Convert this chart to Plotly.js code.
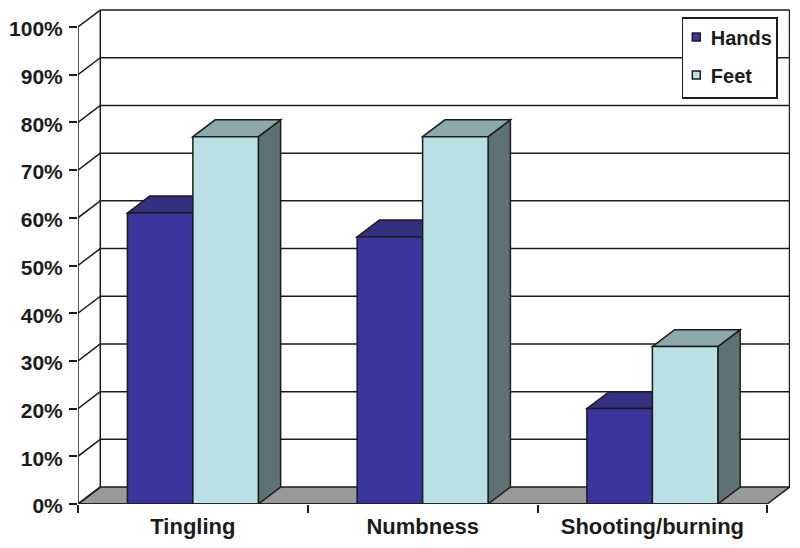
<!DOCTYPE html>
<html>
<head>
<meta charset="utf-8">
<script src="https://cdn.plot.ly/plotly-3.0.1.min.js"></script>
<style>
html,body{margin:0;padding:0;background:#fff}
/* plotly won't go below itemwidth 30, so tighten the legend by hand */
.legend .bg{width:94.5px;height:80px}
.legend .legendtext{transform:translate(-12.5px,-1px)}
.legend .legendsymbols{transform:translate(-7px,-1px)}
</style>
</head>
<body>
<div id="graph" style="width:800px;height:548px"></div>
<script>
var categories = ["Tingling", "Numbness", "Shooting/burning"];
var hands = [61, 56, 20];
var feet = [77, 77, 33];
var percentTicks = [0, 10, 20, 30, 40, 50, 60, 70, 80, 90, 100];
var percentLabels = ["0%", "10%", "20%", "30%", "40%", "50%", "60%", "70%", "80%", "90%", "100%"];
var categoryEdges = [0, 1, 2, 3];

var INK = "#1c1c1c";
var LINE_W = 1.5;
var GAP = 0.43;
var BAR_W = (1 - GAP) / 2;
var DX = 0.097;   // depth of the fake 3d box, in category units
var DY = 3.55;    // same, in percent units
var xRight = 3 + DX;
var yTop = 100 + DY;

var plotLeft = 78, plotTop = 8, plotW = 714, plotH = 496;

var centers = categories.map(function (c, i) { return i + 0.5; });

function poly(points, fill) {
    var path = points.map(function (p, i) {
        return (i ? "L" : "M") + p[0] + "," + p[1];
    }).join(" ") + " Z";
    return {
        type: "path", path: path, xref: "x", yref: "y", layer: "below",
        fillcolor: fill, line: {color: INK, width: LINE_W}
    };
}

function seg(x0, y0, x1, y1) {
    return {
        type: "line", x0: x0, y0: y0, x1: x1, y1: y1, xref: "x", yref: "y",
        layer: "below", line: {color: INK, width: LINE_W}
    };
}

function barFaces(values, left, topColor, sideColor) {
    var out = [];
    values.forEach(function (v, i) {
        var x0 = i + 0.5 + left, x1 = x0 + BAR_W;
        out.push(poly([[x1, 0], [x1 + DX, DY], [x1 + DX, v + DY], [x1, v]], sideColor));
        out.push(poly([[x0, v], [x0 + DX, v + DY], [x1 + DX, v + DY], [x1, v]], topColor));
    });
    return out;
}

var shapes = [];

// floor
shapes.push(poly([[0, 0], [DX, DY], [xRight, DY], [3, 0]], "#999999"));

// back wall grid and the diagonals on the left wall
percentTicks.forEach(function (t) {
    shapes.push(seg(0, t, DX, t + DY));
    if (t > 0) shapes.push(seg(DX, t + DY, xRight, t + DY));
});
shapes.push(seg(DX, DY, DX, yTop));
shapes.push(seg(xRight, DY, xRight, yTop));

shapes = shapes.concat(barFaces(hands, -BAR_W, "#35307f", "#2b2868"));
shapes = shapes.concat(barFaces(feet, 0, "#8ca9ad", "#5e7274"));

var data = [
    {
        type: "bar", x: centers, y: hands, showlegend: false, hoverinfo: "skip",
        marker: {color: "#3b369e", line: {color: INK, width: LINE_W}}
    },
    {
        type: "bar", x: centers, y: feet, showlegend: false, hoverinfo: "skip",
        marker: {color: "#b9e0e3", line: {color: INK, width: LINE_W}}
    },
    // axis lines sit on the plot edge, so draw them unclipped
    {
        type: "scatter", mode: "lines", x: [0, 0, 3], y: [100, 0, 0],
        cliponaxis: false, showlegend: false, hoverinfo: "skip",
        line: {color: INK, width: LINE_W}
    },
    {
        type: "scatter", mode: "markers", x: [null], y: [null], name: "Hands", legendgroup: "a",
        marker: {symbol: "square", size: 8, color: "#3b369e", line: {color: INK, width: 1.5}}
    },
    {
        type: "scatter", mode: "markers", x: [null], y: [null], name: "Feet", legendgroup: "b",
        marker: {symbol: "square", size: 8, color: "#b9e0e3", line: {color: INK, width: 1.5}}
    }
];

var layout = {
    width: 800,
    height: 548,
    margin: {l: plotLeft, r: 800 - plotLeft - plotW, t: plotTop, b: 548 - plotTop - plotH},
    paper_bgcolor: "#fff",
    plot_bgcolor: "#fff",
    barmode: "group",
    bargap: GAP,
    bargroupgap: 0,
    font: {family: "Liberation Sans, Arial, sans-serif", color: INK},
    shapes: shapes,
    xaxis: {
        range: [0, plotW / 230.4],
        tickmode: "array",
        tickvals: centers,
        ticktext: categories.map(function (c) { return "<b>" + c + "</b>"; }),
        tickfont: {size: 22, color: INK},
        ticks: "",
        ticklabelstandoff: 7,
        showgrid: false,
        zeroline: false,
        showline: false,
        minor: {tickmode: "array", tickvals: categoryEdges, ticks: "outside", ticklen: 8, tickwidth: LINE_W, tickcolor: INK, showgrid: false}
    },
    yaxis: {
        range: [0, plotH / 4.77],
        tickmode: "array",
        tickvals: percentTicks,
        ticktext: percentLabels.map(function (s) { return "<b>" + s + "</b>"; }),
        tickfont: {size: 21, color: INK},
        ticks: "outside",
        ticklen: 8,
        tickwidth: LINE_W,
        tickcolor: INK,
        ticklabelstandoff: 2,
        ticklabelshift: 2,
        showgrid: false,
        zeroline: false,
        showline: false
    },
    legend: {
        x: (683.5 - plotLeft) / plotW,
        y: 1 - (17 - plotTop) / plotH,
        xanchor: "left",
        yanchor: "top",
        bgcolor: "#fff",
        bordercolor: INK,
        borderwidth: LINE_W,
        tracegroupgap: 9,
        itemwidth: 30,
        font: {size: 20, color: INK, weight: "bold"}
    },
    showlegend: true
};

Plotly.newPlot("graph", data, layout, {displayModeBar: false});
</script>
</body>
</html>
